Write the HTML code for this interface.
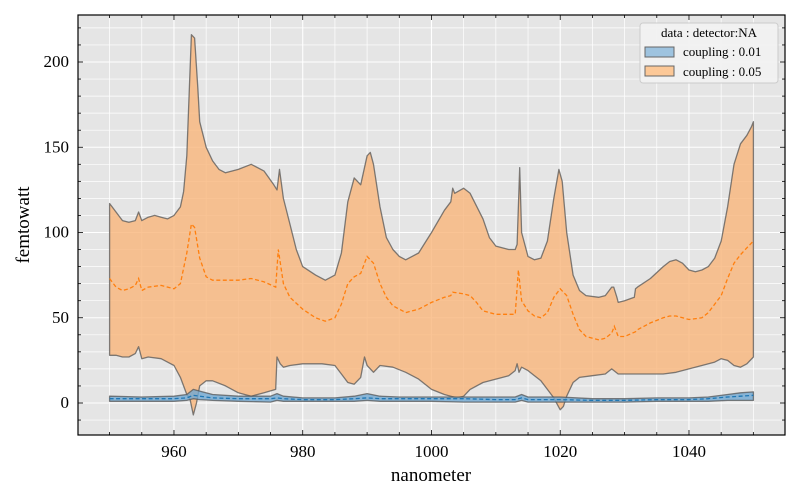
<!DOCTYPE html>
<html><head><meta charset="utf-8"><style>
body{margin:0;background:#fff;}
svg{display:block;font-family:"Liberation Serif",serif;}
</style></head><body>
<svg id="chart" width="800" height="500" xmlns="http://www.w3.org/2000/svg">
<rect x="0" y="0" width="800" height="500" fill="#fff"/>
<rect x="78" y="15" width="707" height="420" fill="#e5e5e5"/>
<g id="grid"></g>
<g id="series"></g>
<rect x="78" y="15" width="707" height="420" fill="none" stroke="#000" stroke-width="1.2"/>
<g id="ticks"></g>
<text x="431" y="481" text-anchor="middle" font-size="19">nanometer</text>
<text transform="translate(29,225) rotate(-90)" text-anchor="middle" font-size="19">femtowatt</text>
<g>
<rect x="640" y="23" width="138" height="60" rx="3" fill="#f2f2f2" fill-opacity="0.9" stroke="#ccc"/>
<text x="709" y="37" text-anchor="middle" font-size="13">data : detector:NA</text>
<rect x="645" y="47" width="29" height="10" fill="#9ec3df" stroke="#666"/>
<text x="683" y="56" font-size="13">coupling : 0.01</text>
<rect x="645" y="66" width="29" height="10" fill="#fcc897" stroke="#666"/>
<text x="683" y="76" font-size="13">coupling : 0.05</text>
</g>
</svg>
<script>
const oX=[950,951,952,953,954,954.5,955,956,957,958,959,960,961,961.5,962,962.7,963.2,963.7,964,965,966,967,968,970,972,974,975.5,976,976.4,977,978,979,980,982,983.5,985,986,987,988,989,990,990.5,991,992,993,994,995,996,998,1000,1002,1003,1003.3,1003.6,1005,1006,1008,1009,1010,1012,1013,1013.3,1013.7,1014,1015,1016,1017,1018,1019,1019.8,1020.3,1021,1022,1023,1024,1026,1027,1028,1028.3,1028.8,1029,1030,1031.5,1031.7,1032,1034,1036,1037,1038,1039,1040,1041,1042,1043,1044,1045,1046,1047,1048,1049,1049.7,1050];
const oUp=[117,112,107,106,107,112,107,109,110,109,108,110,115,124,145,216,214,185,165,150,142,137,135,137,140,136,128,125,137,120,105,90,80,75,72,75,88,118,132,128,145,147,140,115,97,90,86,84,88,100,113,118,126,123,126,123,108,97,92,90,90,93,138,100,86,84,85,95,120,137,130,100,75,66,63,62,63,68,68,62,59,60,62,67,68,73,80,83,84,82,78,77,78,80,85,95,115,140,152,157,162,165];
const oMidX=[950,951,952,953,954,954.5,955,956,958,960,961,962,962.7,963.2,964,965,966,970,972,974,975.8,976.2,977,978,980,982,983.5,985,986,987,988,989,990,991,992,993,994,996,998,1000,1002,1003,1003.3,1005,1006,1007,1008,1010,1013,1013.5,1014,1015,1016,1017,1018,1019,1020,1021,1022,1023,1024,1026,1027,1028,1028.4,1029,1030,1031.8,1032,1034,1036,1037,1038,1040,1042,1043,1045,1046,1047,1048,1049,1050];
const oMid=[73,68,66,67,69,73,66,68,69,67,70,88,105,103,85,74,72,72,73,71,68,90,70,62,55,50,48,50,58,70,74,76,86,82,70,62,57,53,55,59,62,63,65,64,63,59,54,52,52,78,60,54,51,50,53,62,67,63,52,43,39,37,38,41,45,39,39,42,43,47,50,51,51,49,50,53,63,73,82,87,91,95];
const oLoX=[950,951,952,953,954,954.5,955,956,958,959,960,961,962,962.5,963,963.5,964,965,966,968,970,972,974,975.8,976,976.5,977,978,980,983,985,986,987,988,989,989.6,990,991,992,994,996,998,1000,1002,1003,1004,1005,1006,1008,1010,1012,1013,1013.3,1013.6,1014,1015,1016,1017,1018,1019,1020,1020.5,1021,1022,1023,1025,1027,1028,1029,1030,1032,1034,1036,1038,1040,1042,1044,1045,1046,1047,1048,1049,1050];
const oLo=[28,28,27,27,29,33,26,27,26,24,22,15,5,2,-7,0,10,13,13,10,6,4,6,8,27,23,21,22,23,23,22,17,12,11,15,27,22,18,22,21,18,14,8,5,4,3,4,8,12,14,16,19,23,18,21,19,16,13,8,3,-4,-2,4,12,15,16,17,20,17,17,17,17,17,18,20,22,24,26,25,22,21,23,27];
const bX=[950,955,960,962,963,964,966,970,975,976,977,980,985,988,990,992,995,1000,1005,1010,1013,1014,1015,1020,1025,1030,1035,1040,1043,1046,1048,1050];
const bUp=[4,3.5,4,5,8,7,5,4,4,5.5,4,3,3,4,5.5,4,3.5,3.5,3.5,3.5,3.5,5,3.5,3.5,2.5,2.5,3,3,3.5,5,6,6.5];
const bMid=[2.5,2.5,2.5,3,4.5,4,3,2.5,2.5,3,2.5,2,2,2.5,3,2.5,2.5,2.5,2.5,2,2,3,2,2,1.5,1.5,2,2,2.5,3.5,4,4.5];
const bLo=[1,1,1,1.5,2.5,2,1.5,1,0.5,1.5,1,1,1,1,1.5,1,1,1,0.5,0.5,0.5,1.5,0.5,0.5,0.5,0.5,1,1,1,1.5,1.5,1.5];
const xTicks=[960,980,1000,1020,1040];
const yTicks=[0,50,100,150,200];

const NS="http://www.w3.org/2000/svg";
const sx=v=>109.6+(v-950)*6.4375;
const sy=v=>403-v*1.705;
function mk(tag,attrs,parent){const e=document.createElementNS(NS,tag);for(const k in attrs)e.setAttribute(k,attrs[k]);parent.appendChild(e);return e;}
const grid=document.getElementById('grid'),ser=document.getElementById('series'),tk=document.getElementById('ticks');
for(let v=945;v<=1055;v+=5){const x=sx(v);if(x<79||x>784)continue;const major=v%20===0;
 const l=mk('line',{x1:x,x2:x,y1:15,y2:435,stroke:'#fff','stroke-width':major?1.1:0.7},grid);
 
 mk('line',{x1:x,x2:x,y1:435,y2:major?430:432,stroke:'#000','stroke-width':0.8},tk);
 mk('line',{x1:x,x2:x,y1:15,y2:major?20:18,stroke:'#000','stroke-width':0.8},tk);}
for(let v=-10;v<=230;v+=10){const y=sy(v);if(y<16||y>434)continue;const major=v%50===0;
 const l=mk('line',{x1:78,x2:785,y1:y,y2:y,stroke:'#fff','stroke-width':major?1.1:0.7},grid);
 
 mk('line',{x1:78,x2:major?83:81,y1:y,y2:y,stroke:'#000','stroke-width':0.8},tk);
 mk('line',{x1:785,x2:major?780:782,y1:y,y2:y,stroke:'#000','stroke-width':0.8},tk);}
xTicks.forEach(v=>{const t=mk('text',{x:sx(v),y:457,'text-anchor':'middle','font-size':17},tk);t.textContent=v;
 });
yTicks.forEach(v=>{const t=mk('text',{x:69,y:sy(v)+5,'text-anchor':'end','font-size':17},tk);t.textContent=v;
 });
function pts(xs,ys){return xs.map((x,i)=>sx(x).toFixed(1)+','+sy(ys[i]).toFixed(1));}
function band(xU,up,xL,lo,fill,name){
 const d='M'+pts(xU,up).join('L')+'L'+pts(xL,lo).reverse().join('L')+'Z';
 const p=mk('path',{d:d,fill:fill,'fill-opacity':0.8,stroke:'#555','stroke-opacity':0.75,'stroke-width':1.3,'stroke-linejoin':'round'},ser);
 }
function line(xs,ys,col,name){
 const p=mk('polyline',{points:pts(xs,ys).join(' '),fill:'none',stroke:col,'stroke-width':1.3,'stroke-dasharray':'4,2.5'},ser);
 }
band(oX,oUp,oLoX,oLo,'#f9b57a','band-coupling-0.05');
line(oMidX,oMid,'#ff7f0e','mean-line-coupling-0.05');
band(bX,bUp,bX,bLo,'#6fa8d2','band-coupling-0.01');
line(bX,bMid,'#1f77b4','mean-line-coupling-0.01');
</script>
</body></html>
